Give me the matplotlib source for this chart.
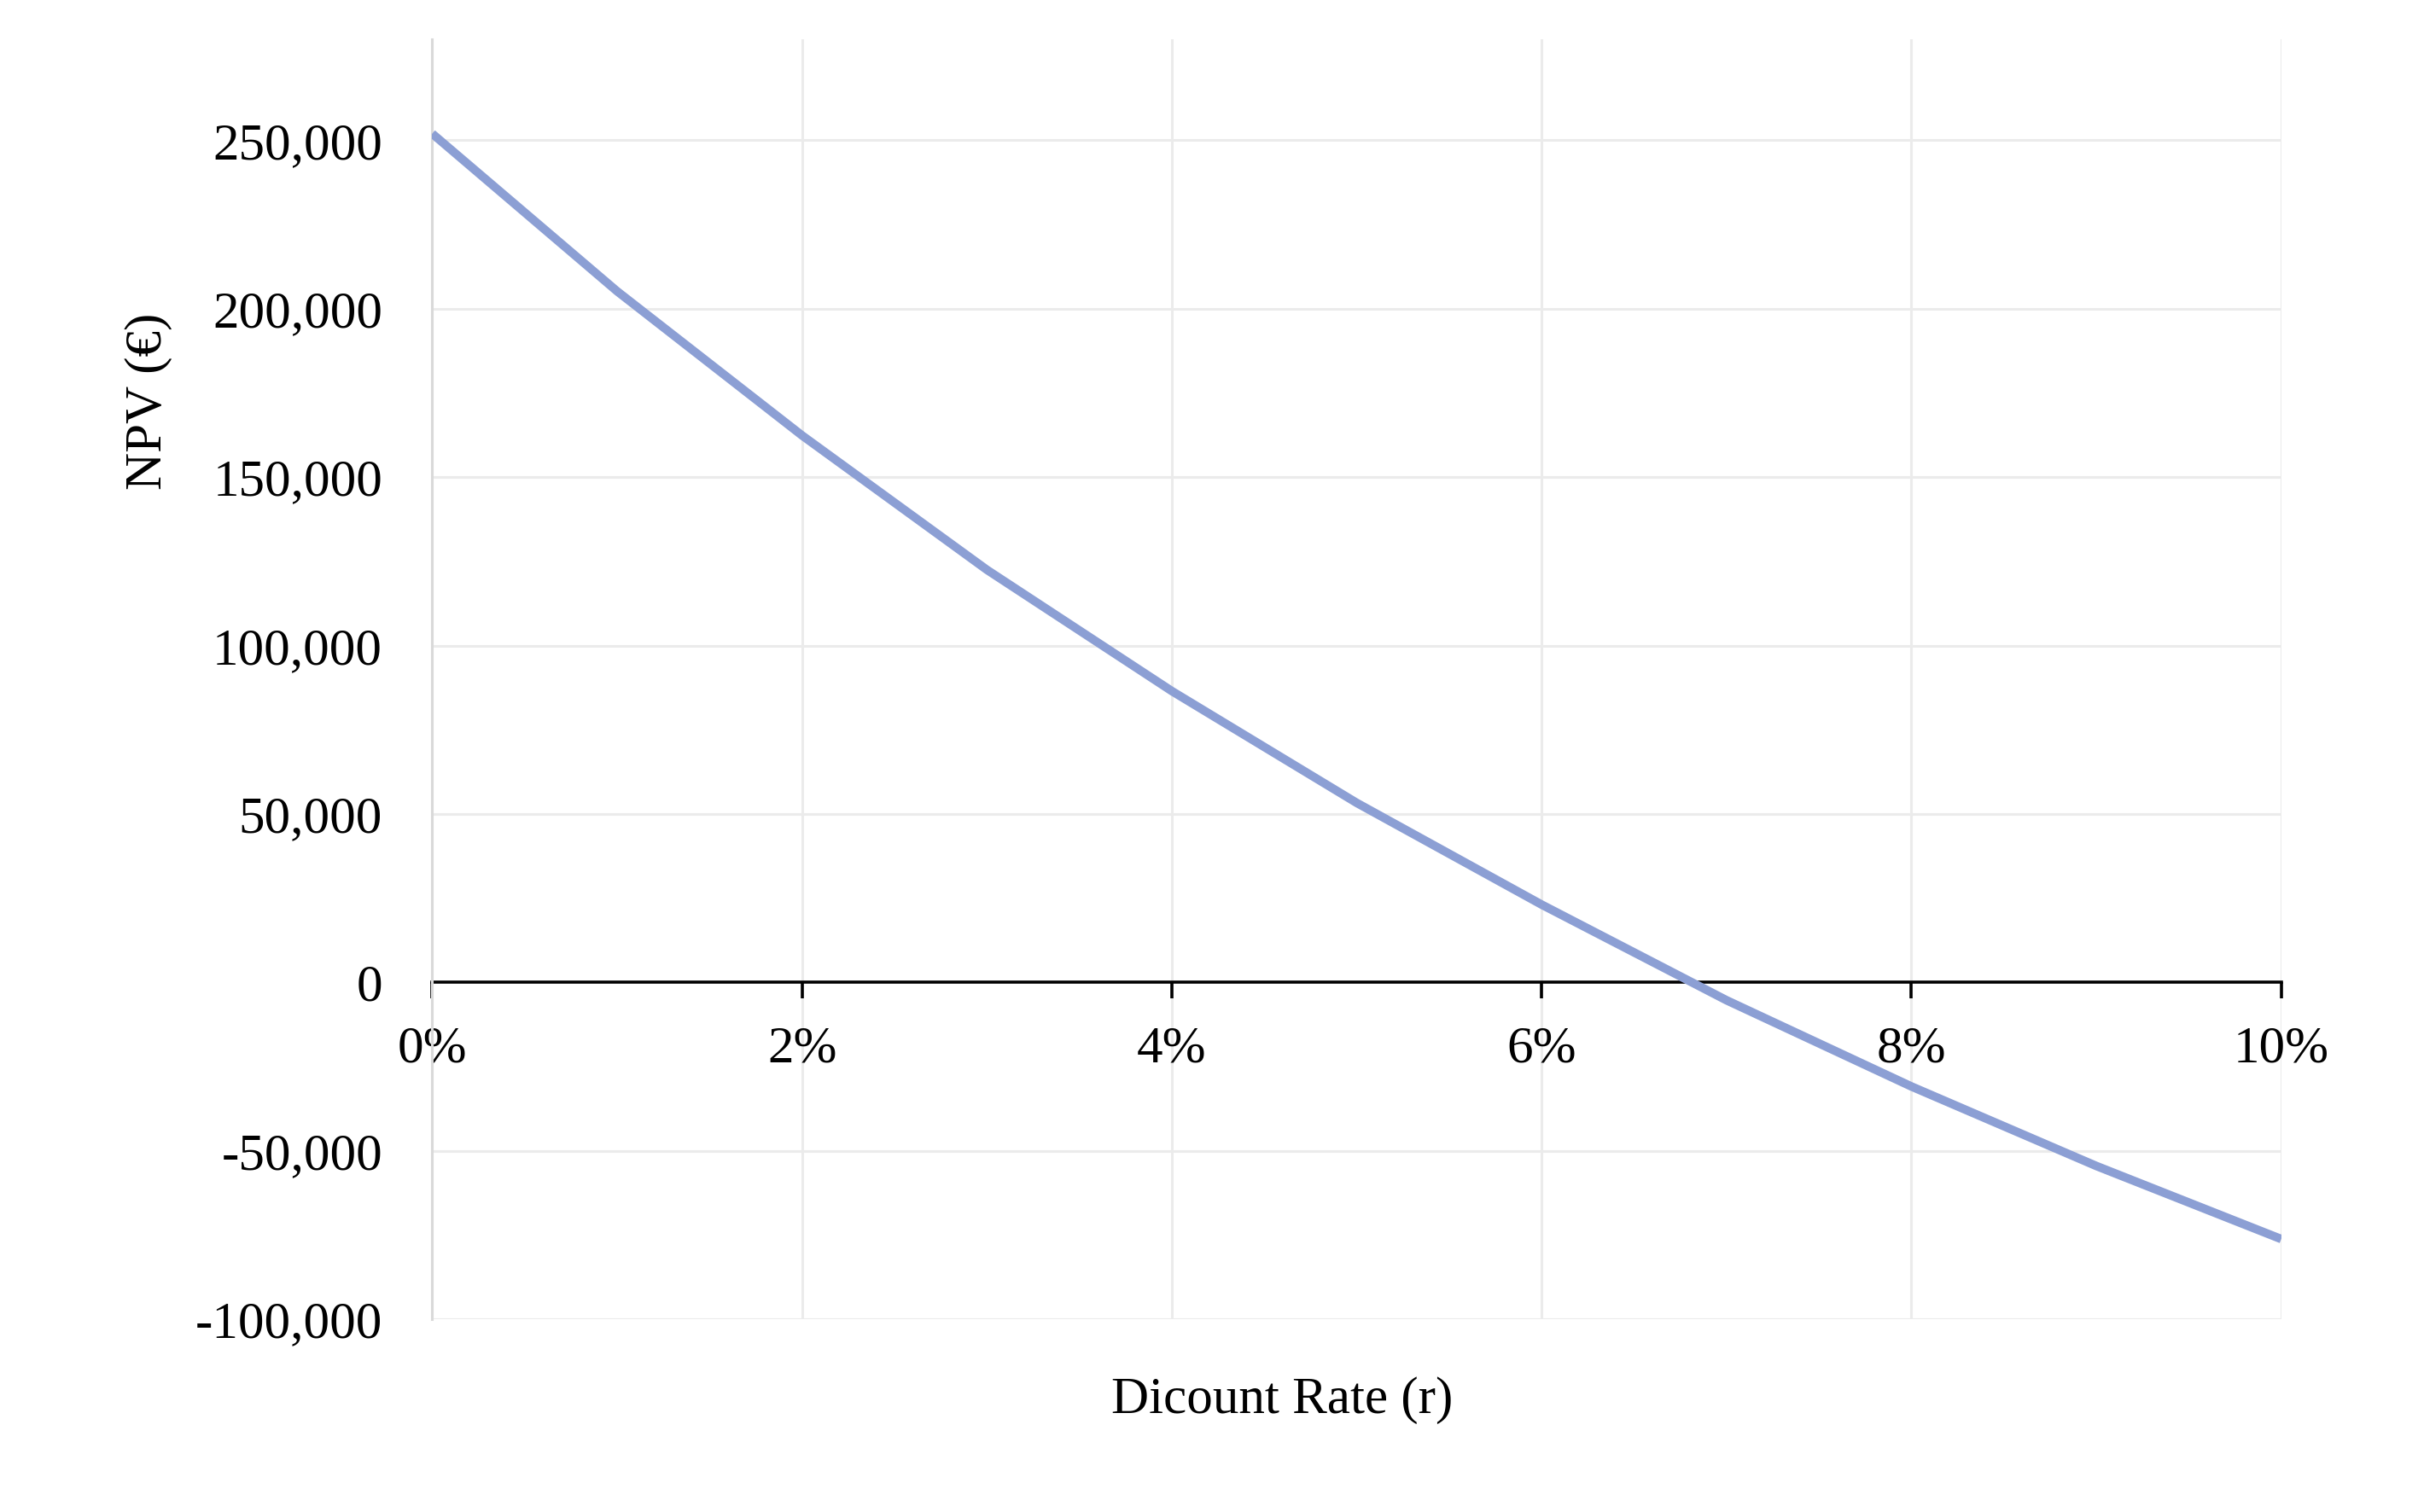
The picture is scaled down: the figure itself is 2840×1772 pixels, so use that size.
import matplotlib
matplotlib.use("Agg")
import matplotlib.pyplot as plt
from matplotlib.ticker import FuncFormatter

# Data
rates = [0, 1, 2, 3, 4, 5, 6, 7, 8, 9, 10]  # discount rate, %
npv = [252000, 205200, 162400, 122500, 86500, 53300, 23100, -5300, -30900, -54500, -76200]

x_ticks = [0, 2, 4, 6, 8, 10]
y_ticks = [-100000, -50000, 0, 50000, 100000, 150000, 200000, 250000]
x_label = "Dicount Rate (r)"
y_label = "NPV (€)"

plt.rcParams['font.family'] = ['Liberation Serif', 'DejaVu Serif']

fig = plt.figure(figsize=(14.2, 8.86), dpi=200)
ax = fig.add_axes([0.1783, 0.1275, 0.9411 - 0.1783, 0.974 - 0.1275])

ax.plot(rates, npv, color='#8C9FD4', linewidth=3.6, solid_capstyle='butt',
        solid_joinstyle='round', zorder=3)

ax.set_xlim(0, 10)
ax.set_ylim(-100000, 280000)
ax.set_xticks(x_ticks)
ax.set_yticks(y_ticks)

# gridlines
for v in y_ticks:
    if v != 0:
        ax.axhline(v, color='#EBEBEB', linewidth=1.1, zorder=1)
for v in x_ticks:
    if v != 0:
        ax.axvline(v, color='#EBEBEB', linewidth=1.1, zorder=1)

for s in ['top', 'right']:
    ax.spines[s].set_visible(False)
ax.spines['left'].set_color('#D9D9D9')
ax.spines['left'].set_linewidth(1.1)
ax.spines['bottom'].set_position(('data', 0))
ax.spines['bottom'].set_color('black')
ax.spines['bottom'].set_linewidth(1.3)
ax.spines['bottom'].set_zorder(2)

ax.xaxis.set_major_formatter(FuncFormatter(lambda v, p: f"{v:.0f}%"))
ax.yaxis.set_major_formatter(FuncFormatter(lambda v, p: f"{v:,.0f}"))

ax.tick_params(axis='x', direction='out', length=6.8, width=1.3, color='black',
               labelsize=22, pad=11.5, labelcolor='black')
ax.tick_params(axis='y', length=0, labelsize=22, pad=21, labelcolor='black')

fig.text(0.529, 0.074, x_label, ha='center', va='center', fontsize=22)
fig.text(0.0613, 0.7348, y_label, ha='center', va='center', rotation=90, fontsize=22)

fig.savefig('out.png', dpi=200, facecolor='white')
